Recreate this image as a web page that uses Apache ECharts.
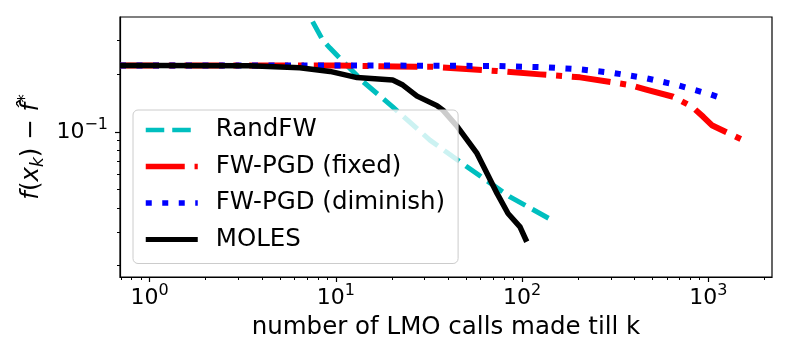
<!DOCTYPE html>
<html>
<head>
<meta charset="utf-8">
<script src="https://cdn.jsdelivr.net/npm/echarts@6/dist/echarts.min.js"></script>
<style>
  html, body { margin: 0; padding: 0; background: #fff; }
  #main { width: 790px; height: 354px; }
</style>
</head>
<body>
<div id="main"></div>
<script>
// series values (x = LMO calls, y = f(x_k) - f*)
var seriesNames = ['RandFW', 'FW-PGD (fixed)', 'FW-PGD (diminish)', 'MOLES'];

var randfwX = [7.5, 8.5, 9.3, 10.9, 14.0, 20.2, 32.0, 50.6, 86.2, 145];
var randfwY = [0.377, 0.302, 0.274, 0.234, 0.183, 0.135, 0.0905, 0.0656, 0.0457, 0.0345];

var fixedX = [0.693, 1, 10, 21, 33, 73, 125, 166, 205, 381, 459, 648, 817, 940, 1052, 1540];
var fixedY = [0.222, 0.222, 0.222, 0.2195, 0.219, 0.208, 0.1997, 0.1957, 0.1927, 0.1756, 0.1667, 0.1525, 0.1355, 0.1198, 0.1078, 0.0905];

var dimX = [0.693, 1, 10, 21, 73, 136, 205, 305, 459, 681, 1025, 1234];
var dimY = [0.222, 0.222, 0.222, 0.222, 0.221, 0.2174, 0.2122, 0.2036, 0.1911, 0.1756, 0.157, 0.1478];

var molesX = [0.693, 1, 3.45, 6.4, 9.3, 13.0, 20.2, 22.9, 27.3, 34.9, 37.6, 45, 57.3, 64.9, 73.4, 84.1, 97.5, 106];
var molesY = [0.222, 0.222, 0.2216, 0.2163, 0.207, 0.1922, 0.1865, 0.1756, 0.1537, 0.1371, 0.1299, 0.1062, 0.0771, 0.0606, 0.0476, 0.0374, 0.0318, 0.0266];

// tick values
var xMajorTicks = [1, 10, 100, 1000];
var xMinorTicks = [0.7, 0.8, 0.9, 2, 3, 4, 5, 6, 7, 8, 9, 20, 30, 40, 50, 60, 70, 80, 90,
  200, 300, 400, 500, 600, 700, 800, 900, 2000];
var yMajorTicks = [0.1];
var yMinorTicks = [0.02, 0.03, 0.04, 0.05, 0.06, 0.07, 0.08, 0.09, 0.2, 0.3];

var xMin = 0.693, xMax = 2200;
var yMin = 0.0174, yMax = 0.3986;

var FONT = 'DejaVu Sans';

var lineColors = ['#00bfbf', '#ff0000', '#0000ff', '#000000'];
var lineWidths = [5, 6, 6, 5.5];
var lineDashes = [[18.5, 8], [39, 9.8, 6, 9.8], [6, 10.5], 'solid'];

function pairs(xs, ys) {
  return xs.map(function (x, i) { return [x, ys[i]]; });
}

function pow10Label(v) {
  var e = Math.round(Math.log10(v));
  var s = e < 0 ? '\u2212' + (-e) : String(e);
  return '{b|10}{s|' + s + '}';
}

var tickRich = {
  b: { fontSize: 22, fontFamily: FONT, color: '#000', lineHeight: 30 },
  s: { fontSize: 16, fontFamily: FONT, color: '#000', lineHeight: 15, verticalAlign: 'top' }
};

var blackLine = { color: '#000', width: 1.2 };

function majorAxis(extra) {
  var a = {
    axisLine: { show: true, onZero: false, lineStyle: blackLine },
    splitLine: { show: false },
    minorTick: { show: false }
  };
  for (var k in extra) a[k] = extra[k];
  return a;
}

function minorAxis(type, pos, min, max, values) {
  return {
    type: type, position: pos, min: min, max: max, logBase: 10,
    axisLine: { show: false, onZero: false },
    axisTick: { show: true, inside: false, length: 3, customValues: values, lineStyle: { color: '#000', width: 1 } },
    axisLabel: { show: false },
    splitLine: { show: false }
  };
}

var xs = [randfwX, fixedX, dimX, molesX];
var ys = [randfwY, fixedY, dimY, molesY];

var series = seriesNames.map(function (name, i) {
  return {
    name: name, type: 'line', symbol: 'none', showSymbol: false,
    data: pairs(xs[i], ys[i]),
    lineStyle: { color: lineColors[i], width: lineWidths[i], type: lineDashes[i], cap: 'butt', join: 'round' },
    itemStyle: { color: lineColors[i] }
  };
});

var legendData = seriesNames.map(function (name, i) {
  return {
    name: name,
    itemStyle: { opacity: 0, borderWidth: 0 },
    lineStyle: { width: lineWidths[i] - 0.5, type: lineDashes[i], color: lineColors[i], cap: 'butt' }
  };
});

var chart = echarts.init(document.getElementById('main'), null, { renderer: 'canvas' });

chart.setOption({
  animation: false,
  backgroundColor: '#fff',
  grid: {
    left: 120, right: 18, top: 17, bottom: 77,
    show: true, borderColor: '#000', borderWidth: 1.2,
    containLabel: false, outerBoundsMode: 'none'
  },
  legend: {
    orient: 'vertical', left: 133, top: 110,
    itemWidth: 52, itemHeight: 14, itemGap: 8.5,
    padding: [6, 13, 10, 10],
    backgroundColor: 'rgba(255,255,255,0.8)',
    borderColor: '#cccccc', borderWidth: 1, borderRadius: 5,
    textStyle: { fontSize: 24.5, fontFamily: FONT, color: '#000', lineHeight: 28, padding: [0, 0, 0, 13] },
    data: legendData
  },
  xAxis: [
    majorAxis({
      type: 'log', position: 'bottom', min: xMin, max: xMax, logBase: 10,
      axisTick: { show: true, inside: false, length: 5, customValues: xMajorTicks, lineStyle: blackLine },
      axisLabel: { customValues: xMajorTicks, formatter: pow10Label, rich: tickRich, margin: 6 },
      name: 'number of LMO calls made till k',
      nameLocation: 'middle', nameGap: 36, nameMoveOverlap: false,
      nameTextStyle: { fontSize: 24.5, fontFamily: FONT, color: '#000', lineHeight: 30 }
    }),
    minorAxis('log', 'bottom', xMin, xMax, xMinorTicks)
  ],
  yAxis: [
    majorAxis({
      type: 'log', position: 'left', min: yMin, max: yMax, logBase: 10,
      axisTick: { show: true, inside: false, length: 5, customValues: yMajorTicks, lineStyle: blackLine },
      axisLabel: { customValues: yMajorTicks, formatter: pow10Label, rich: tickRich, margin: 12 },
      name: '{i|f}{n|(}{i|x}{sub|k}{n|) \u2212 }{i|f\u0302}{sup|*}',
      nameLocation: 'middle', nameGap: 73, nameRotate: 90, nameMoveOverlap: false,
      nameTextStyle: {
        rich: {
          i: { fontSize: 24.5, fontFamily: FONT, fontStyle: 'italic', color: '#000', lineHeight: 30 },
          n: { fontSize: 24.5, fontFamily: FONT, color: '#000', lineHeight: 30 },
          sub: { fontSize: 17, fontFamily: FONT, fontStyle: 'italic', color: '#000', lineHeight: 19, verticalAlign: 'bottom' },
          sup: { fontSize: 17, fontFamily: FONT, color: '#000', lineHeight: 14, verticalAlign: 'top' }
        }
      }
    }),
    minorAxis('log', 'left', yMin, yMax, yMinorTicks)
  ],
  series: series
});
</script>
</body>
</html>
